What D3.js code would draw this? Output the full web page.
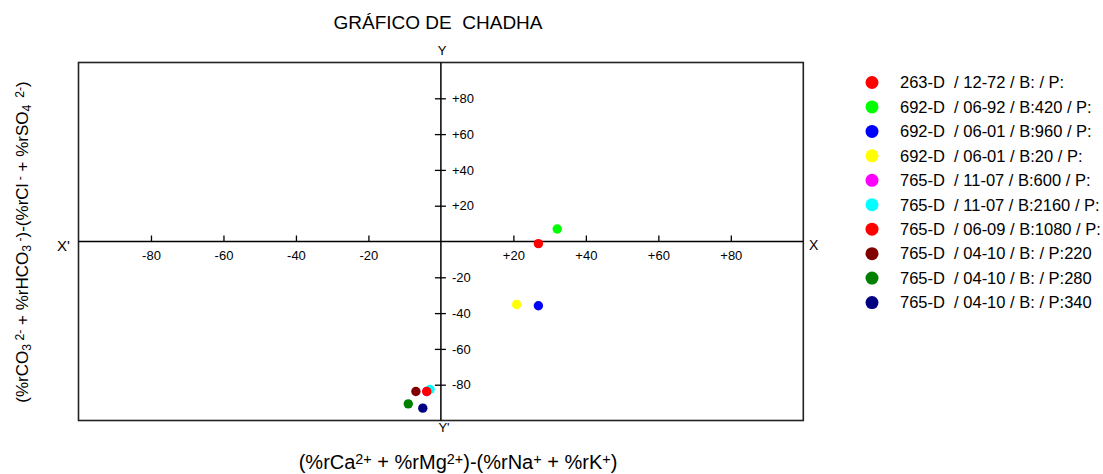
<!DOCTYPE html>
<html>
<head>
<meta charset="utf-8">
<script src="https://cdn.jsdelivr.net/npm/d3@7"></script>
<style>
  body { margin: 0; background: #fff; }
  svg { font-family: "Liberation Sans", Arial, sans-serif; }
  .tick text { font-size: 13px; fill: #000; }
</style>
</head>
<body>
<script>
// datos de las muestras
var muestras = ["263-D  / 12-72 / B: / P:", "692-D  / 06-92 / B:420 / P:", "692-D  / 06-01 / B:960 / P:",
  "692-D  / 06-01 / B:20 / P:", "765-D  / 11-07 / B:600 / P:", "765-D  / 11-07 / B:2160 / P:",
  "765-D  / 06-09 / B:1080 / P:", "765-D  / 04-10 / B: / P:220", "765-D  / 04-10 / B: / P:280",
  "765-D  / 04-10 / B: / P:340"];
var xVals = [26.9, 32.1, 26.9, 20.9, -3.9, -3.0, -3.9, -6.9, -9.0, -5.0];
var yVals = [-1.2, 7.0, -35.9, -35.2, -83.8, -82.7, -83.8, -83.8, -90.7, -93.1];
var colores = ["#ff0000", "#00ff00", "#0000ff", "#ffff00", "#ff00ff", "#00ffff", "#ff0000", "#800000", "#008000", "#000080"];
var ticksX = [-80, -60, -40, -20, 20, 40, 60, 80];
var ticksY = [-80, -60, -40, -20, 20, 40, 60, 80];

var W = 1103, H = 474;
var x = d3.scaleLinear().domain([-100, 100]).range([78.5, 803.3]);
var y = d3.scaleLinear().domain([-100, 100]).range([420.5, 62.5]);
var fmt = function (d) { return d > 0 ? "+" + d : String(d); };

var svg = d3.select("body").append("svg").attr("width", W).attr("height", H);

// titulo
svg.append("text").attr("x", 438).attr("y", 29).attr("text-anchor", "middle")
  .style("font-size", "19px").style("white-space", "pre").text("GRÁFICO DE  CHADHA");

// marco
svg.append("rect").attr("x", x(-100)).attr("y", y(100))
  .attr("width", x(100) - x(-100)).attr("height", y(-100) - y(100))
  .attr("fill", "none").attr("stroke", "#222").attr("stroke-width", 1.6);

// ejes centrales
svg.append("line").attr("x1", x(-100)).attr("x2", x(100)).attr("y1", y(0)).attr("y2", y(0))
  .attr("stroke", "#000").attr("stroke-width", 1.5);
svg.append("line").attr("x1", x(0)).attr("x2", x(0)).attr("y1", y(100)).attr("y2", y(-100))
  .attr("stroke", "#000").attr("stroke-width", 1.5);

var xAxis = d3.axisBottom(x).tickValues(ticksX).tickFormat(fmt).tickSizeInner(-6).tickSizeOuter(0).tickPadding(9);
var gx = svg.append("g").attr("transform", "translate(0," + y(0) + ")").call(xAxis);
gx.select(".domain").remove();
gx.selectAll(".tick line").attr("stroke", "#000").attr("stroke-width", 1.3);

var yAxis = d3.axisRight(y).tickValues(ticksY).tickFormat(fmt).tickSizeInner(5).tickSizeOuter(0).tickPadding(6);
var gy = svg.append("g").attr("transform", "translate(" + x(0) + ",0)").call(yAxis);
gy.select(".domain").remove();
gy.selectAll(".tick line").attr("x1", -6).attr("stroke", "#000").attr("stroke-width", 1.3);

// letras de los ejes
svg.append("text").attr("x", 442).attr("y", 55).attr("text-anchor", "middle").style("font-size", "13px").text("Y");
svg.append("text").attr("x", 444).attr("y", 432).attr("text-anchor", "middle").style("font-size", "13px").text("Y'");
svg.append("text").attr("x", 57).attr("y", 251).style("font-size", "15px").text("X'");
svg.append("text").attr("x", 809).attr("y", 250).style("font-size", "14px").text("X");

// titulo eje x
var tx = svg.append("text").attr("x", 458).attr("y", 469).attr("text-anchor", "middle").style("font-size", "20px");
function piezas(t, partes) {
  partes.forEach(function (p) {
    var s = t.append("tspan").text(p[0]).style("white-space", "pre");
    if (p[1] == "sup") s.attr("baseline-shift", "35%").style("font-size", "72%");
    if (p[1] == "sub") s.attr("baseline-shift", "-25%").style("font-size", "72%");
  });
}
piezas(tx, [["(%rCa"], ["2+", "sup"], [" + %rMg"], ["2+", "sup"], [")-(%rNa"], ["+", "sup"],
  [" + %rK"], ["+", "sup"], [")"]]);

// titulo eje y
var ty = svg.append("text").attr("transform", "translate(28,242) rotate(-90)")
  .attr("text-anchor", "middle").style("font-size", "17px");
piezas(ty, [["(%rCO"], ["3", "sub"], [" 2-", "sup"], [" + %rHCO"], ["3", "sub"], [" -", "sup"],
  [")-(%rCl"], [" -", "sup"], [" + %rSO"], ["4", "sub"], ["  2-", "sup"], [")"]]);

// puntos
var datos = muestras.map(function (m, i) { return { nombre: m, x: xVals[i], y: yVals[i], color: colores[i] }; });
svg.append("g").selectAll("circle").data(datos).enter().append("circle")
  .attr("cx", function (d) { return x(d.x); })
  .attr("cy", function (d) { return y(d.y); })
  .attr("r", 4.7)
  .attr("fill", function (d) { return d.color; });

// leyenda
var ley = svg.append("g").selectAll("g").data(datos).enter().append("g")
  .attr("transform", function (d, i) { return "translate(872," + (82.5 + i * 24.45) + ")"; });
ley.append("circle").attr("r", 6.5).attr("fill", function (d) { return d.color; });
ley.append("text").attr("x", 28).attr("dy", "0.35em").style("font-size", "16.5px")
  .style("white-space", "pre").text(function (d) { return d.nombre; });
</script>
</body>
</html>
